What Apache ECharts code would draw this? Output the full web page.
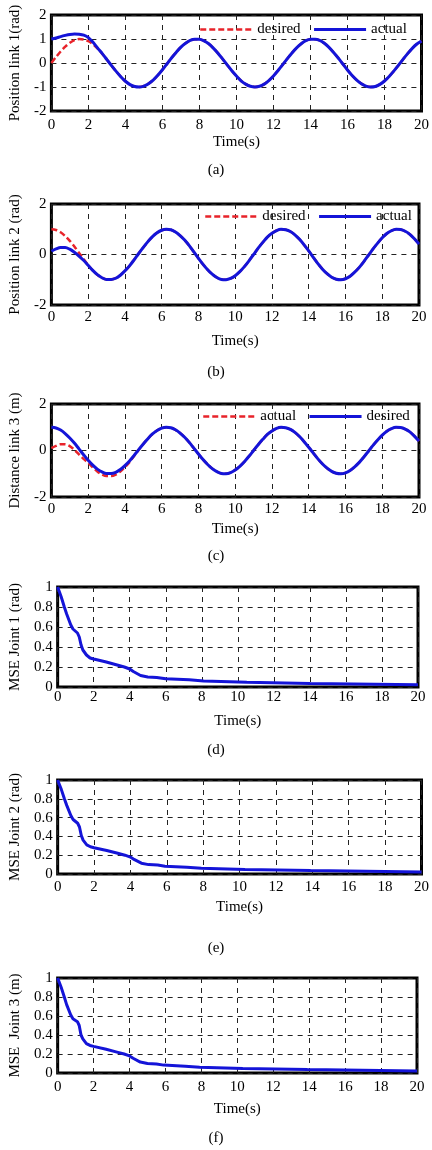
<!DOCTYPE html>
<html>
<head>
<meta charset="utf-8">
<script src="https://cdn.jsdelivr.net/npm/echarts@6/dist/echarts.min.js"></script>
<style>
  html, body { margin: 0; padding: 0; background: #fff; }
  #main { width: 432px; height: 1150px; }
</style>
</head>
<body>
<div id="main"></div>
<script>
// time base for panels (a)-(c), seconds, 0.25 s apart
const time = [0, 0.25, 0.5, 0.75, 1, 1.25, 1.5, 1.75, 2, 2.25, 2.5, 2.75, 3, 3.25, 3.5, 3.75, 4, 4.25, 4.5, 4.75,
  5, 5.25, 5.5, 5.75, 6, 6.25, 6.5, 6.75, 7, 7.25, 7.5, 7.75, 8, 8.25, 8.5, 8.75, 9, 9.25, 9.5, 9.75,
  10, 10.25, 10.5, 10.75, 11, 11.25, 11.5, 11.75, 12, 12.25, 12.5, 12.75, 13, 13.25, 13.5, 13.75, 14, 14.25, 14.5, 14.75,
  15, 15.25, 15.5, 15.75, 16, 16.25, 16.5, 16.75, 17, 17.25, 17.5, 17.75, 18, 18.25, 18.5, 18.75, 19, 19.25, 19.5, 19.75, 20]

// (a) link 1
const desired1 = [0, 0.25, 0.48, 0.68, 0.84, 0.95, 1.0, 0.98, 0.91, 0.78, 0.6, 0.38, 0.14, -0.11, -0.35, -0.57, -0.76, -0.9, -0.98, -1.0,
  -0.96, -0.86, -0.71, -0.51, -0.28, -0.03, 0.22, 0.45, 0.66, 0.82, 0.94, 0.99, 0.99, 0.92, 0.8, 0.62, 0.41, 0.17, -0.08, -0.32,
  -0.54, -0.74, -0.88, -0.97, -1.0, -0.97, -0.88, -0.73, -0.54, -0.31, -0.07, 0.18, 0.42, 0.63, 0.8, 0.93, 0.99, 0.99, 0.94, 0.82,
  0.65, 0.44, 0.21, -0.04, -0.29, -0.52, -0.71, -0.86, -0.96, -1.0, -0.98, -0.89, -0.75, -0.56, -0.34, -0.1, 0.15, 0.39, 0.61, 0.79, 0.91]
const actual1 = [1.0, 1.04, 1.1, 1.15, 1.19, 1.21, 1.2, 1.16, 1.06, 0.86, 0.62, 0.39, 0.14, -0.11, -0.35, -0.57, -0.76, -0.9, -0.98, -1.0,
  -0.96, -0.86, -0.71, -0.51, -0.28, -0.03, 0.22, 0.45, 0.66, 0.82, 0.94, 0.99, 0.99, 0.92, 0.8, 0.62, 0.41, 0.17, -0.08, -0.32,
  -0.54, -0.74, -0.88, -0.97, -1.0, -0.97, -0.88, -0.73, -0.54, -0.31, -0.07, 0.18, 0.42, 0.63, 0.8, 0.93, 0.99, 0.99, 0.94, 0.82,
  0.65, 0.44, 0.21, -0.04, -0.29, -0.52, -0.71, -0.86, -0.96, -1.0, -0.98, -0.89, -0.75, -0.56, -0.34, -0.1, 0.15, 0.39, 0.61, 0.79, 0.91]

// (b) link 2
const desired2 = [1.0, 0.97, 0.88, 0.73, 0.54, 0.32, 0.07, -0.18, -0.42, -0.63, -0.8, -0.92, -0.99, -0.99, -0.94, -0.82, -0.65, -0.45, -0.21, 0.04,
  0.28, 0.51, 0.71, 0.86, 0.96, 1.0, 0.98, 0.89, 0.75, 0.57, 0.35, 0.1, -0.15, -0.39, -0.6, -0.78, -0.91, -0.99, -1.0, -0.95,
  -0.84, -0.68, -0.48, -0.25, 0.0, 0.25, 0.48, 0.69, 0.84, 0.95, 1.0, 0.98, 0.91, 0.78, 0.6, 0.38, 0.14, -0.11, -0.36, -0.58,
  -0.76, -0.9, -0.98, -1.0, -0.96, -0.86, -0.7, -0.51, -0.28, -0.03, 0.22, 0.45, 0.66, 0.83, 0.94, 1.0, 0.99, 0.92, 0.8, 0.62, 0.41]
const actual2 = [0.13, 0.22, 0.28, 0.28, 0.21, 0.09, -0.06, -0.23, -0.43, -0.63, -0.8, -0.92, -0.99, -0.99, -0.94, -0.82, -0.65, -0.45, -0.21, 0.04,
  0.28, 0.51, 0.71, 0.86, 0.96, 1.0, 0.98, 0.89, 0.75, 0.57, 0.35, 0.1, -0.15, -0.39, -0.6, -0.78, -0.91, -0.99, -1.0, -0.95,
  -0.84, -0.68, -0.48, -0.25, 0.0, 0.25, 0.48, 0.69, 0.84, 0.95, 1.0, 0.98, 0.91, 0.78, 0.6, 0.38, 0.14, -0.11, -0.36, -0.58,
  -0.76, -0.9, -0.98, -1.0, -0.96, -0.86, -0.7, -0.51, -0.28, -0.03, 0.22, 0.45, 0.66, 0.83, 0.94, 1.0, 0.99, 0.92, 0.8, 0.62, 0.41]

// (c) link 3 (the source legend calls the red dashed curve "actual")
const red3 = [0.1, 0.2, 0.27, 0.27, 0.19, 0.03, -0.17, -0.36, -0.53, -0.72, -0.9, -1.03, -1.1, -1.1, -1.04, -0.9, -0.72, -0.5, -0.24, 0.03,
  0.28, 0.51, 0.71, 0.86, 0.96, 1.0, 0.98, 0.89, 0.75, 0.57, 0.35, 0.1, -0.15, -0.39, -0.6, -0.78, -0.91, -0.99, -1.0, -0.95,
  -0.84, -0.68, -0.48, -0.25, 0.0, 0.25, 0.48, 0.69, 0.84, 0.95, 1.0, 0.98, 0.91, 0.78, 0.6, 0.38, 0.14, -0.11, -0.36, -0.58,
  -0.76, -0.9, -0.98, -1.0, -0.96, -0.86, -0.7, -0.51, -0.28, -0.03, 0.22, 0.45, 0.66, 0.83, 0.94, 1.0, 0.99, 0.92, 0.8, 0.62, 0.41]
const blue3 = [1.0, 0.97, 0.88, 0.73, 0.54, 0.32, 0.07, -0.18, -0.42, -0.63, -0.8, -0.92, -0.99, -0.99, -0.94, -0.82, -0.65, -0.45, -0.21, 0.04,
  0.28, 0.51, 0.71, 0.86, 0.96, 1.0, 0.98, 0.89, 0.75, 0.57, 0.35, 0.1, -0.15, -0.39, -0.6, -0.78, -0.91, -0.99, -1.0, -0.95,
  -0.84, -0.68, -0.48, -0.25, 0.0, 0.25, 0.48, 0.69, 0.84, 0.95, 1.0, 0.98, 0.91, 0.78, 0.6, 0.38, 0.14, -0.11, -0.36, -0.58,
  -0.76, -0.9, -0.98, -1.0, -0.96, -0.86, -0.7, -0.51, -0.28, -0.03, 0.22, 0.45, 0.66, 0.83, 0.94, 1.0, 0.99, 0.92, 0.8, 0.62, 0.41]

// (d)-(f) MSE curves
const mseTime1 = [0, 0.1, 0.2, 0.37, 0.5, 0.73, 0.85, 1.1, 1.2, 1.3, 1.4, 1.6, 1.8, 2.0, 2.7, 3.3, 3.7, 4.0, 4.2, 4.6,
  5.0, 5.5, 5.6, 6.0, 6.1, 7.3, 7.4, 8.1, 8.2, 10.5, 10.6, 14.0, 14.1, 20]
const mse1 = [1.0, 0.95, 0.9, 0.8, 0.73, 0.62, 0.58, 0.54, 0.5, 0.42, 0.37, 0.32, 0.29, 0.28, 0.25, 0.22, 0.2, 0.18,
  0.155, 0.115, 0.1, 0.095, 0.085, 0.083, 0.075, 0.072, 0.063, 0.06, 0.052, 0.048, 0.04, 0.036, 0.022, 0.022]
const mseTime2 = [0, 0.1, 0.2, 0.37, 0.5, 0.73, 0.85, 1.1, 1.2, 1.3, 1.4, 1.6, 1.8, 2.0, 2.7, 3.3, 3.7, 4.0, 4.2, 4.6,
  5.0, 5.5, 5.6, 5.9, 6.0, 7.1, 7.2, 7.9, 8.0, 10.3, 10.4, 13.9, 14.0, 20]
const mse2 = [1.0, 0.95, 0.9, 0.8, 0.73, 0.62, 0.58, 0.54, 0.5, 0.41, 0.36, 0.31, 0.29, 0.28, 0.25, 0.22, 0.2, 0.18,
  0.155, 0.115, 0.1, 0.095, 0.085, 0.083, 0.075, 0.072, 0.063, 0.06, 0.052, 0.048, 0.04, 0.036, 0.022, 0.022]
const mseTime3 = [0, 0.1, 0.2, 0.37, 0.5, 0.73, 0.85, 1.1, 1.2, 1.3, 1.4, 1.6, 1.8, 2.0, 2.7, 3.3, 3.7, 4.0, 4.2, 4.6,
  5.0, 5.5, 5.6, 5.9, 6.0, 7.1, 7.2, 7.9, 8.0, 10.3, 10.4, 13.9, 14.0, 20]
const mse3 = [1.0, 0.95, 0.9, 0.8, 0.72, 0.61, 0.57, 0.54, 0.5, 0.4, 0.36, 0.31, 0.29, 0.28, 0.25, 0.22, 0.2, 0.18,
  0.155, 0.115, 0.1, 0.095, 0.085, 0.083, 0.075, 0.072, 0.063, 0.06, 0.052, 0.048, 0.04, 0.036, 0.022, 0.022]

const captions = ['(a)', '(b)', '(c)', '(d)', '(e)', '(f)']
const yNames = ['Position link 1(rad)', 'Position link 2 (rad)', 'Distance link 3 (m)',
  'MSE Joint 1 (rad)', 'MSE Joint 2 (rad)', 'MSE  Joint 3 (m)']

const FONT = '"Liberation Serif", "Times New Roman", serif'
const BLUE = '#1414d8'
const RED = '#e8232a'

// panel boxes in pixels and text offsets
const boxes = [
  { left: 45, top: 15, width: 378, height: 96, lm: 7, ng: 24, yg: 25, cap: 158, ymin: -2, ymax: 2, yi: 1 },
  { left: 46, top: 204, width: 373, height: 101, lm: 5, ng: 29, yg: 25, cap: 360, ymin: -2, ymax: 2, yi: 2 },
  { left: 44, top: 404, width: 375, height: 93, lm: 5, ng: 25, yg: 23, cap: 544, ymin: -2, ymax: 2, yi: 2 },
  { left: 54, top: 587, width: 364, height: 100, lm: 3, ng: 27, yg: 33, cap: 738, ymin: 0, ymax: 1, yi: 0.2 },
  { left: 54, top: 780, width: 368, height: 94, lm: 6, ng: 26, yg: 33, cap: 936, ymin: 0, ymax: 1, yi: 0.2 },
  { left: 54, top: 978, width: 363, height: 95, lm: 7, ng: 29, yg: 33, cap: 1126, ymin: 0, ymax: 1, yi: 0.2 }
]

const chart = echarts.init(document.getElementById('main'))

const pairs = (xs, ys) => xs.map((x, i) => [x, ys[i]])

const grid = boxes.map(b => ({
  left: b.left, top: b.top, width: b.width, height: b.height,
  show: true, borderColor: '#000', borderWidth: 3
}))

const splitLine = { show: true, lineStyle: { color: '#222', width: 1, type: [5, 5] } }

const xAxis = boxes.map((b, i) => ({
  type: 'value', gridIndex: i, min: 0, max: 20, interval: 2,
  name: 'Time(s)', nameLocation: 'middle', nameGap: b.ng,
  nameTextStyle: { fontFamily: FONT, fontSize: 15, color: '#000' },
  axisLine: { show: false }, axisTick: { show: false },
  axisLabel: { margin: b.lm, fontFamily: FONT, fontSize: 15, color: '#000' },
  splitLine
}))

const yAxis = boxes.map((b, i) => ({
  type: 'value', gridIndex: i, min: b.ymin, max: b.ymax, interval: b.yi,
  name: yNames[i], nameLocation: 'middle', nameRotate: 90, nameGap: b.yg,
  nameTextStyle: { fontFamily: FONT, fontSize: 15, color: '#000' },
  axisLine: { show: false }, axisTick: { show: false },
  axisLabel: { margin: 5, fontFamily: FONT, fontSize: 15, color: '#000' },
  splitLine
}))

const title = captions.map((c, i) => ({
  text: c, left: 'center', top: boxes[i].cap,
  textStyle: { fontFamily: FONT, fontSize: 15, fontWeight: 'normal', color: '#000' }
}))

const redStyle = { color: RED, width: 2.5, type: [6, 3] }
const blueStyle = { color: BLUE, width: 3, type: 'solid' }

const lineSeries = (name, data, idx, style, z, smooth) => ({
  name, type: 'line', xAxisIndex: idx, yAxisIndex: idx,
  data, smooth, symbol: 'none', z,
  lineStyle: style, itemStyle: { color: style.color }
})

const series = [
  lineSeries('desired', pairs(time, desired1), 0, redStyle, 2, 0.3),
  lineSeries('actual', pairs(time, actual1), 0, blueStyle, 3, 0.3),
  lineSeries('desired', pairs(time, desired2), 1, redStyle, 2, 0.3),
  lineSeries('actual', pairs(time, actual2), 1, blueStyle, 3, 0.3),
  lineSeries('actual', pairs(time, red3), 2, redStyle, 2, 0.3),
  lineSeries('desired', pairs(time, blue3), 2, blueStyle, 3, 0.3),
  lineSeries('mse1', pairs(mseTime1, mse1), 3, blueStyle, 3, false),
  lineSeries('mse2', pairs(mseTime2, mse2), 4, blueStyle, 3, false),
  lineSeries('mse3', pairs(mseTime3, mse3), 5, blueStyle, 3, false)
]

// legend shows only the line sample, the marker dot is made invisible
const legendItem = (name, style) => ({
  name, itemStyle: { color: style.color, opacity: 0, borderWidth: 0 }, lineStyle: style
})

const makeLegend = (left, top, items) => ({
  show: true, left, top, orient: 'horizontal', itemWidth: 52, itemHeight: 12, itemGap: 12,
  textStyle: { fontFamily: FONT, fontSize: 15, color: '#000' },
  data: items
})

const legend = [
  makeLegend(194, 17, [legendItem('desired', redStyle), legendItem('actual', blueStyle)]),
  makeLegend(199, 204, [legendItem('desired', redStyle), legendItem('actual', blueStyle)]),
  makeLegend(197, 404, [legendItem('actual', redStyle), legendItem('desired', blueStyle)])
]

chart.setOption({
  animation: false,
  title, grid, xAxis, yAxis, legend, series
})
</script>
</body>
</html>
